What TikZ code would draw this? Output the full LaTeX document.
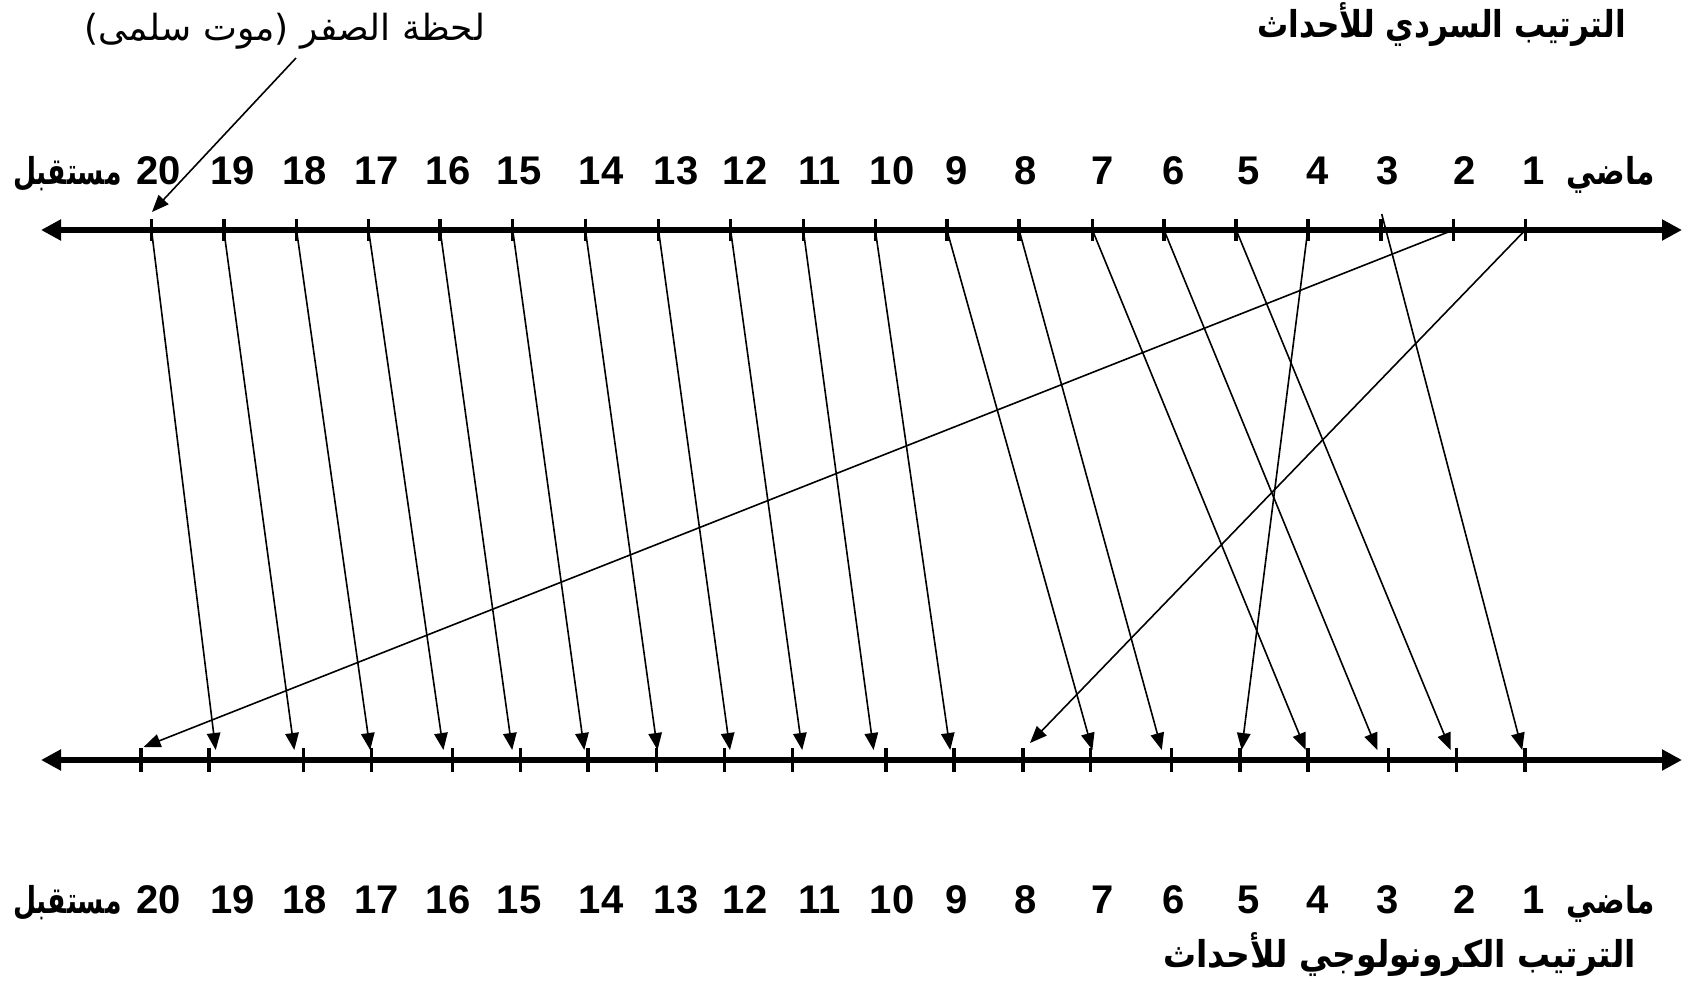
\documentclass[tikz,border=0pt]{standalone}
\usepackage{graphicx}
\usepackage{fontspec}
\setmainfont{Liberation Sans}
\newfontfamily\arfont[Script=Arabic]{DejaVu Sans}
\TeXXeTstate=1
\usetikzlibrary{arrows.meta}
\begin{document}
\begin{tikzpicture}[x=1pt,y=-1pt,
  axisline/.style={line width=6.5pt,{Triangle[length=20pt,width=20pt]}-{Triangle[length=20pt,width=20pt]}},
  tickmark/.style={line width=3.5pt},
  conn/.style={line width=1.6pt,-{Triangle[length=17pt,width=13.5pt]}},
  num/.style={font=\fontsize{40}{48}\selectfont\bfseries,anchor=base,inner sep=0pt},
  arlab/.style={font=\fontsize{37}{44}\selectfont\arfont\bfseries,inner sep=0pt},
  arreg/.style={font=\fontsize{36}{44}\selectfont\arfont,inner sep=0pt}]
\useasboundingbox (0,0) rectangle (1691,984);
% axes
\coordinate (tl) at (41,230);
\coordinate (tr) at (1682,230);
\coordinate (bl) at (41,760);
\coordinate (br) at (1682,760);
\draw[axisline] (tl) -- (tr);
\draw[axisline] (bl) -- (br);
% top ticks
\foreach \i/\x in {1/1525.3,2/1453.3,3/1381.1,4/1307.8,5/1236.2,6/1164,7/1092.4,8/1019.1,9/946.9,10/875.3,11/803.3,12/730.6,13/658.5,14/585.4,15/512.7,16/440.1,17/368.6,18/296.5,19/223.8,20/151.5}{
  \draw[tickmark] (\x,219) -- (\x,241);
  \coordinate (t\i) at (\x,230);
}
% bottom ticks
\foreach \i/\x in {1/1524.9,2/1456.6,3/1388.7,4/1307.8,5/1240,6/1171.6,7/1090.7,8/1022.9,9/954,10/886.1,11/792.4,12/724.7,13/656.4,14/588.1,15/520.3,16/452.6,17/371.3,18/303.5,19/209.2,20/140.9}{
  \draw[tickmark] (\x,748) -- (\x,772);
  \coordinate (b\i) at (\x,760);
}
% numbers
\foreach \i/\x in {1/1534,2/1465,3/1388,4/1318,5/1249,6/1174,7/1103,8/1026,9/957,10/892,11/820,12/745,13/676,14/601,15/519,16/448,17/377,18/305,19/233,20/159}{
  \node[num] (nt\i) at (\x,185) {\i};
  \node[num] (nb\i) at (\x,913) {\i};
}
% labels
\node[arlab,anchor=base east] (pastT) at (1655,185) {\scalebox{0.8}[1]{\beginR ماضي\endR}};
\node[arlab,anchor=base west] (futT) at (13,185) {\scalebox{0.72}[1]{\beginR مستقبل\endR}};
\node[arlab,anchor=base east] (pastB) at (1655,913) {\scalebox{0.8}[1]{\beginR ماضي\endR}};
\node[arlab,anchor=base west] (futB) at (13,913) {\scalebox{0.72}[1]{\beginR مستقبل\endR}};
\node[arlab,anchor=base east] (titleT) at (1626,38) {\scalebox{0.84}[1]{\beginR الترتيب السردي للأحداث\endR}};
\node[arlab,anchor=base east] (titleB) at (1636,967) {\scalebox{0.89}[1]{\beginR الترتيب الكرونولوجي للأحداث\endR}};
\node[arreg,anchor=base] (zero) at (285,41) {\beginR لحظة الصفر (موت سلمى)\endR};
% arrow tips
\coordinate (e1) at (1522.2,750);
\coordinate (e2) at (1450.6,750);
\coordinate (e3) at (1377.3,750);
\coordinate (e4) at (1305.7,750);
\coordinate (e5) at (1241.6,750);
\coordinate (e6) at (1161.8,750);
\coordinate (e7) at (1092.4,750);
\coordinate (e8) at (1030,743);
\coordinate (e9) at (950.2,750);
\coordinate (e10) at (873.6,750);
\coordinate (e11) at (802.2,750);
\coordinate (e12) at (730,750);
\coordinate (e13) at (657.5,750);
\coordinate (e14) at (584.3,750);
\coordinate (e15) at (512.2,750);
\coordinate (e16) at (443.4,750);
\coordinate (e17) at (370.2,750);
\coordinate (e18) at (294.3,750);
\coordinate (e19) at (215.7,750);
\coordinate (e20) at (143.6,747);
\coordinate (t3u) at (1381.7,214);
% connectors
\draw[conn] (t20) -- (e19);
\draw[conn] (t19) -- (e18);
\draw[conn] (t18) -- (e17);
\draw[conn] (t17) -- (e16);
\draw[conn] (t16) -- (e15);
\draw[conn] (t15) -- (e14);
\draw[conn] (t14) -- (e13);
\draw[conn] (t13) -- (e12);
\draw[conn] (t12) -- (e11);
\draw[conn] (t11) -- (e10);
\draw[conn] (t10) -- (e9);
\draw[conn] (t9) -- (e7);
\draw[conn] (t8) -- (e6);
\draw[conn] (t7) -- (e4);
\draw[conn] (t6) -- (e3);
\draw[conn] (t5) -- (e2);
\draw[conn] (t4) -- (e5);
\draw[conn] (t3u) -- (e1);
\draw[conn] (t2) -- (e20);
\draw[conn] (t1) -- (e8);
% annotation
\coordinate (zs) at (296,58);
\coordinate (ze) at (152,212);
\draw[conn] (zs) -- (ze);
\end{tikzpicture}
\end{document}
